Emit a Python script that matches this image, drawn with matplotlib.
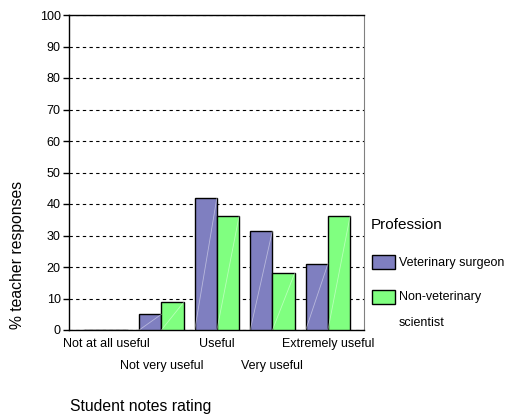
import matplotlib
matplotlib.use("Agg")
import matplotlib.pyplot as plt
import numpy as np
from matplotlib.patches import Rectangle

categories = ["Not at all useful", "Not very useful", "Useful", "Very useful", "Extremely useful"]
vet_surgeon = [0, 5.0, 42.0, 31.5, 21.0]
non_vet = [0, 8.8, 36.2, 18.0, 36.2]
yticks = [0, 10, 20, 30, 40, 50, 60, 70, 80, 90, 100]

PURPLE = "#7f7fc0"
GREEN = "#80ff80"

plt.rcParams["font.family"] = ["Liberation Sans", "DejaVu Sans"]
plt.rcParams["font.size"] = 9

fig = plt.figure(figsize=(5.11, 4.16), dpi=100)
ax = fig.add_axes([69 / 511, 1 - 330 / 416, 295 / 511, 315 / 416])

x = np.arange(len(categories))
w = 0.4
for offs, vals, col in [(-w / 2, vet_surgeon, PURPLE), (w / 2, non_vet, GREEN)]:
    ax.bar(x + offs, vals, w, color=col, edgecolor="black", linewidth=1, zorder=3)
    # faint diagonal sheen inside each bar
    for xi, v in zip(x + offs, vals):
        if v > 0:
            ax.plot([xi - w / 2, xi + w / 2], [0, v], color="white", alpha=0.45,
                    linewidth=0.6, zorder=4)

ax.set_xlim(-0.665, 4.65)
ax.set_ylim(0, 100)
ax.set_yticks(yticks)
ax.yaxis.grid(True, color="black", linestyle=(0, (3, 3)), linewidth=0.8, zorder=0)
ax.tick_params(axis="y", length=4, width=1, pad=2)

# category labels in two staggered rows
ax.set_xticks(x)
ax.set_xticklabels(categories)
ax.tick_params(axis="x", which="major", length=0, pad=6)
for i, lbl in enumerate(ax.get_xticklabels()):
    if i % 2:
        lbl.set_y(-0.07)
ax.set_xticks([1, 3, 4], minor=True)
ax.tick_params(axis="x", which="minor", length=4, width=1)

for side in ("left", "bottom", "top"):
    ax.spines[side].set_color("black")
    ax.spines[side].set_linewidth(1)
ax.spines["right"].set_color("#808080")

fig.text(18 / 511, 1 - 255 / 416, "% teacher responses", rotation=90,
         ha="center", va="center", fontsize=11.3)
fig.text(70 / 511, 1 - 406 / 416, "Student notes rating", ha="left", va="center", fontsize=11.3)

# legend
fig.text(371 / 511, 1 - 225 / 416, "Profession", ha="left", va="center", fontsize=11)
for y0, col in [(255, PURPLE), (290, GREEN)]:
    fig.patches.append(Rectangle((372 / 511, 1 - (y0 + 14) / 416), 23 / 511, 14 / 416,
                                 transform=fig.transFigure, facecolor=col,
                                 edgecolor="black", linewidth=1))
fig.text(399 / 511, 1 - 263 / 416, "Veterinary surgeon", ha="left", va="center")
fig.text(399 / 511, 1 - 297 / 416, "Non-veterinary", ha="left", va="center")
fig.text(399 / 511, 1 - 323 / 416, "scientist", ha="left", va="center")

fig.savefig("out.png", dpi=100)
